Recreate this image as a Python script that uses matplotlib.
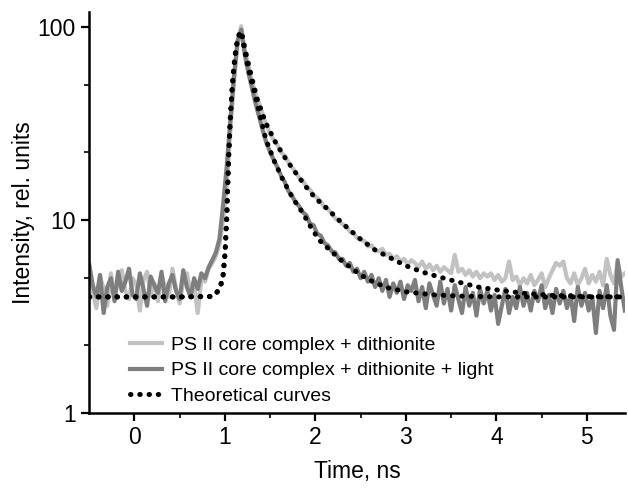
import matplotlib
matplotlib.use("Agg")
import matplotlib.pyplot as plt
import numpy as np

plt.rcParams['font.family'] = ['Liberation Sans', 'DejaVu Sans']

# sampling grid of the measured traces, ns
t_data = np.round(np.arange(-0.5, 5.43, 0.04), 2)

# PS II core complex + dithionite (light grey trace)
light_trace = [
    5.6, 4.2, 3.5, 5.1, 4.4, 3.6, 5.3, 4.0, 4.8, 5.5,
    4.3, 3.9, 5.0, 4.6, 3.4, 4.9, 5.4, 4.1, 4.7, 3.8,
    5.2, 4.5, 4.0, 5.6, 4.4, 3.7, 4.9, 5.3, 4.2, 4.6,
    3.3, 5.0, 4.8, 5.6, 6.0, 6.5, 7.5, 10.0, 15.0, 29.0,
    52.0, 82.0, 101.0, 76.0, 63.0, 52.0, 45.0, 40.0, 35.0, 31.0,
    28.0, 26.0, 24.5, 22.5, 21.5, 20.0, 18.8, 17.8, 16.6, 16.0,
    15.0, 14.4, 13.5, 13.0, 12.5, 11.6, 11.4, 10.8, 10.2, 9.9,
    9.5, 9.3, 8.7, 8.6, 8.1, 7.9, 7.8, 7.3, 7.4, 7.0,
    6.9, 7.1, 6.6, 6.7, 6.3, 6.5, 6.1, 6.3, 5.9, 6.2,
    6.0, 5.7, 6.1, 5.6, 5.9, 5.5, 5.8, 5.4, 5.7, 5.5,
    5.3, 6.6, 5.4, 5.6, 5.2, 5.5, 5.1, 5.4, 5.0, 5.3,
    5.1, 5.3, 4.9, 5.2, 4.8, 5.0, 6.1, 4.9, 5.1, 4.6,
    5.0, 4.7, 5.2, 4.6, 4.9, 5.3, 4.5, 5.0, 5.5, 6.0,
    5.8, 6.1, 5.0, 4.7, 5.3, 4.6, 5.0, 5.6, 4.7, 5.2,
    4.8, 5.4, 4.6, 6.3, 5.2, 4.7, 6.0, 5.1, 5.3,
]

# PS II core complex + dithionite + light (dark grey trace)
dark_trace = [
    5.9, 4.6, 4.0, 5.2, 3.3, 4.5, 5.0, 3.8, 5.4, 4.3,
    4.8, 5.6, 4.1, 3.9, 5.3, 4.4, 3.6, 5.1, 4.6, 4.2,
    5.4, 3.8, 4.7, 5.2, 4.3, 3.9, 5.5, 4.5, 4.0, 5.0,
    4.4, 5.3, 5.0, 5.7, 6.2, 6.8, 8.0, 12.0, 19.0, 33.0,
    55.0, 85.0, 97.0, 72.0, 58.0, 48.0, 40.0, 34.0, 29.0, 25.0,
    22.5, 20.5, 18.8, 17.0, 15.8, 14.2, 13.4, 12.4, 11.8, 11.0,
    10.6, 9.6, 9.4, 8.5, 8.3, 7.6, 7.4, 6.9, 6.8, 6.3,
    6.3, 5.8, 6.0, 5.4, 5.6, 5.0, 5.4, 4.8, 5.2, 4.5,
    5.0, 4.3, 4.9, 4.0, 4.7, 4.2, 4.8, 3.9, 4.6, 4.3,
    4.9, 3.8, 4.5, 3.5, 4.7, 4.1, 3.6, 4.8, 3.7, 4.4,
    3.4, 4.6, 3.9, 3.3, 4.5, 3.6, 4.2, 3.2, 4.4, 3.7,
    4.3, 3.4, 4.1, 2.9, 3.6, 4.4, 3.3, 4.0, 3.5, 4.5,
    3.6, 4.2, 3.4, 4.3, 3.8, 4.6, 3.5, 4.1, 3.3, 4.4,
    3.7, 4.3, 3.5, 4.1, 3.0, 4.5, 3.6, 4.2, 3.4, 4.0,
    2.6, 4.3, 3.5, 4.6, 3.2, 2.7, 6.2, 4.5, 3.4,
]

# theoretical curves
t_fit_slow = [-0.5, 0.0, 0.5, 0.85, 0.9, 0.95, 0.98, 1.0, 1.02, 1.04, 1.06,
              1.08, 1.1, 1.12, 1.14, 1.16, 1.18, 1.2, 1.25, 1.3, 1.36, 1.45,
              1.565, 1.68, 1.785, 1.9, 2.0, 2.11, 2.3, 2.48, 2.66, 2.85, 3.0,
              3.2, 3.36, 3.6, 3.8, 4.02, 4.3, 4.6, 5.0, 5.42]
fit_slow = [4.0, 4.0, 4.0, 4.02, 4.15, 4.5, 5.2, 6.6, 10.2, 20.3, 34.0,
            48.0, 63.0, 76.0, 86.0, 92.0, 95.0, 86.0, 67.5, 54.0, 42.0, 32.0,
            25.0, 20.5, 17.5, 14.8, 13.0, 11.7, 9.6, 8.1, 7.0, 6.3, 5.8,
            5.35, 5.09, 4.75, 4.5, 4.34, 4.18, 4.08, 4.02, 4.0]

t_fit_fast = [-0.5, 0.0, 0.5, 0.85, 0.9, 0.95, 0.98, 1.0, 1.02, 1.04, 1.06,
              1.08, 1.1, 1.12, 1.14, 1.16, 1.18, 1.2, 1.25, 1.31, 1.38, 1.455,
              1.55, 1.64, 1.75, 1.86, 1.95, 2.04, 2.12, 2.3, 2.5, 2.65, 2.81,
              3.0, 3.3, 3.6, 4.0, 4.5, 5.0, 5.42]
fit_fast = [4.0, 4.0, 4.0, 4.02, 4.15, 4.5, 5.2, 6.6, 10.2, 20.3, 34.0,
            48.0, 63.0, 76.0, 86.0, 92.0, 95.0, 84.0, 63.0, 49.0, 36.0, 26.0,
            20.0, 16.2, 13.0, 10.9, 9.2, 7.9, 7.28, 6.1, 5.2, 4.75, 4.45,
            4.25, 4.1, 4.04, 4.0, 4.0, 4.0, 4.0]

labels = ["PS II core complex + dithionite",
          "PS II core complex + dithionite + light",
          "Theoretical curves"]

fig = plt.figure(figsize=(6.28, 4.93), dpi=100)
ax = fig.add_axes([0.142, 0.162, 0.853, 0.814])

ax.plot(t_data, light_trace, color="#c2c2c2", lw=3.0, label=labels[0])
ax.plot(t_data, dark_trace, color="#7e7e7e", lw=3.0, label=labels[1])
dots = (0, (0.1, 1.75))
ax.plot(t_fit_slow, fit_slow, color="black", lw=3.6, linestyle=dots,
        dash_capstyle="round", label=labels[2])
ax.plot(t_fit_fast, fit_fast, color="black", lw=3.6, linestyle=dots,
        dash_capstyle="round")

ax.set_yscale("log")
ax.set_ylim(1, 120)
ax.set_xlim(-0.5, 5.42)
ax.set_yticks([1, 10, 100])
ax.set_yticklabels(["1", "10", "100"])
ax.set_yticks([2.25, 5, 22.5, 50], minor=True)
ax.set_yticklabels([], minor=True)
ax.set_xticks([0, 1, 2, 3, 4, 5])
ax.set_xticks([0.5, 1.5, 2.5, 3.5, 4.5], minor=True)

for s in ["top", "right"]:
    ax.spines[s].set_visible(False)
for s in ["left", "bottom"]:
    ax.spines[s].set_linewidth(1.8)
ax.tick_params(which="major", length=6, width=1.6, labelsize=16.5, direction="out")
ax.tick_params(which="minor", length=3.5, width=1.2, direction="out")

ax.set_xlabel("Time, ns", fontsize=16.5, labelpad=8)
ax.set_ylabel("Intensity, rel. units", fontsize=16.5, labelpad=2)

ax.legend(loc="lower left", bbox_to_anchor=(0.076, 0.02), frameon=False,
          fontsize=14, handlelength=1.65, handletextpad=0.45,
          labelspacing=0.42, borderaxespad=0, borderpad=0)

plt.savefig("out.png", dpi=100)
